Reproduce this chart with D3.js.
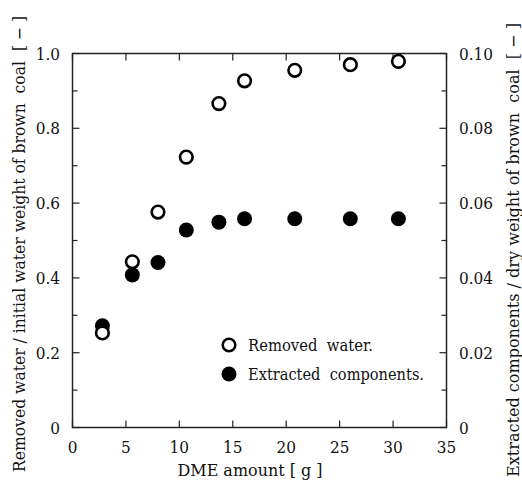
<!DOCTYPE html>
<html>
<head>
<meta charset="utf-8">
<script src="https://cdn.jsdelivr.net/npm/d3@7"></script>
<style>
  body { margin: 0; background: #fff; }
</style>
</head>
<body>
<svg id="chart" width="522" height="488"></svg>
<script>
// data
var dme = [2.8, 5.6, 8.0, 10.65, 13.7, 16.1, 20.8, 26.0, 30.5];
var removedWater = [0.253, 0.443, 0.576, 0.723, 0.866, 0.927, 0.955, 0.970, 0.979];
var extracted = [0.0272, 0.0408, 0.0441, 0.0528, 0.0549, 0.0558, 0.0558, 0.0558, 0.0558];
var xTicks = [0, 5, 10, 15, 20, 25, 30, 35];
var yLeftTicks = [0, 0.2, 0.4, 0.6, 0.8, 1.0];
var yRightTicks = [0, 0.02, 0.04, 0.06, 0.08, 0.10];

var pLeft = 72.5, pRight = 446.5, pTop = 53.5, pBottom = 427.5;
var serif = "'DejaVu Serif Condensed', 'DejaVu Serif', serif";

var svg = d3.select("#chart");

var x = d3.scaleLinear().domain([0, 35]).range([pLeft, pRight]);
var yL = d3.scaleLinear().domain([0, 1]).range([pBottom, pTop]);
var yR = d3.scaleLinear().domain([0, 0.1]).range([pBottom, pTop]);

function fmtL(d) { return d == 0 ? "0" : d3.format(".1f")(d); }
function fmtR(d) { return d == 0 ? "0" : d3.format(".2f")(d); }

function label(px, py, str, size, anchor, fitTo) {
	var t = svg.append("text").attr("x", px).attr("y", py)
		.attr("text-anchor", anchor || "start")
		.style("font-family", serif)
		.style("font-stretch", "condensed")
		.style("font-size", size + "px")
		.style("white-space", "pre")
		.attr("fill", "#111")
		.text(str);
	if (fitTo) {
		t.attr("textLength", fitTo).attr("lengthAdjust", "spacingAndGlyphs");
	}
	return t;
}

// frame
svg.append("rect")
	.attr("x", pLeft).attr("y", pTop)
	.attr("width", pRight - pLeft).attr("height", pBottom - pTop)
	.attr("fill", "none").attr("stroke", "#222").attr("stroke-width", 1.5);

var g = svg.append("g").attr("stroke", "#222").attr("stroke-width", 1.2);

// x ticks, bottom and top, pointing in
xTicks.forEach(function(d) {
	g.append("line").attr("x1", x(d)).attr("x2", x(d))
		.attr("y1", pBottom).attr("y2", pBottom - 7);
	g.append("line").attr("x1", x(d)).attr("x2", x(d))
		.attr("y1", pTop).attr("y2", pTop + 7);
	label(x(d), 453, d, 17, "middle");
});

// y ticks every 0.1 on both sides, longer at labelled ones
d3.range(0, 1.0001, 0.1).forEach(function(d, i) {
	var len = i % 2 == 0 ? 7 : 5;
	g.append("line").attr("x1", pLeft).attr("x2", pLeft + len)
		.attr("y1", yL(d)).attr("y2", yL(d));
	g.append("line").attr("x1", pRight).attr("x2", pRight - len)
		.attr("y1", yL(d)).attr("y2", yL(d));
});

yLeftTicks.forEach(function(d) {
	label(60, yL(d) + 6, fmtL(d), 17, "end");
});
yRightTicks.forEach(function(d) {
	label(459, yR(d) + 6, fmtR(d), 17, "start");
});

// axis titles
label(250, 476, "DME amount [ g ]", 17, "middle", 145);

label(0, 0, "Removed water / initial water weight of brown  coal  [ \u2212 ]", 17, "middle", 456)
	.attr("transform", "translate(25,244) rotate(-90)");

label(0, 0, "Extracted components / dry weight of brown  coal  [ \u2212 ]", 17, "middle", 454)
	.attr("transform", "translate(519,250) rotate(-90)");

// points
svg.selectAll(".filled").data(dme).enter().append("circle")
	.attr("class", "filled")
	.attr("cx", function(d) { return x(d); })
	.attr("cy", function(d, i) { return yR(extracted[i]); })
	.attr("r", 7.5)
	.attr("fill", "#000");

svg.selectAll(".open").data(dme).enter().append("circle")
	.attr("class", "open")
	.attr("cx", function(d) { return x(d); })
	.attr("cy", function(d, i) { return yL(removedWater[i]); })
	.attr("r", 6.3)
	.attr("fill", "#fff").attr("stroke", "#000").attr("stroke-width", 2.6);

// legend
svg.append("circle").attr("cx", 229).attr("cy", 345).attr("r", 6.3)
	.attr("fill", "#fff").attr("stroke", "#000").attr("stroke-width", 2.6);
label(248, 351, "Removed  water.", 17, "start", 125);
svg.append("circle").attr("cx", 229).attr("cy", 374).attr("r", 7.5)
	.attr("fill", "#000");
label(248, 380, "Extracted  components.", 17, "start", 176);
</script>
</body>
</html>
